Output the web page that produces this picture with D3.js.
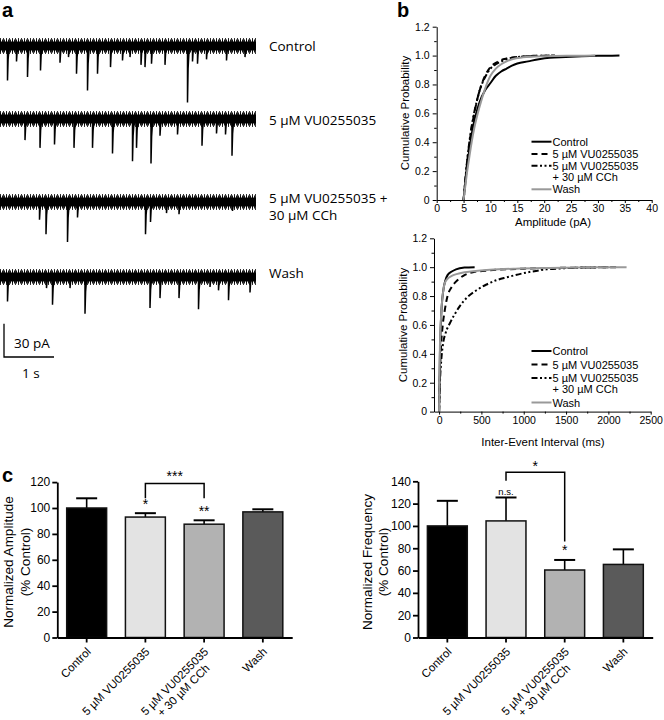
<!DOCTYPE html>
<html><head><meta charset="utf-8">
<script src="https://cdn.jsdelivr.net/npm/d3@7"></script>
<style>body{margin:0;background:#fff}svg{display:block}text{font-family:"Liberation Sans",Arial,sans-serif}</style>
</head><body><svg id="c" width="664" height="720"></svg>
<script>
// ---------- DATA ----------
// Panel a: event times (s) and amplitudes (pA) for each trace
const traceNames = ["Control", "5 µM VU0255035", "5 µM VU0255035 +|30 µM CCh", "Wash"];
const evControlT = [0.15,0.33,0.55,0.81,1.2,1.37,1.53,1.75,1.95,2.21,2.45,2.6,2.82,2.9,3.03,3.3,3.75,3.85,3.95,4.13,4.53,4.9];
const evControlA = [31,14,28,22,15,10,25,40,25,19,13,10,17,19,16,17,51,14,16,12,13,10];
const evVUT = [0.5,0.8,1.09,1.48,1.85,2.25,2.65,2.73,3.02,3.2,3.55,4.04,4.33,4.51,4.64];
const evVUA = [19,26,23,26,26,31,38,26,40,15,14,24,13,14,33];
const evCChT = [0.79,0.92,1.35,1.55,2.91,3.01,3.33,3.58,4.65];
const evCChA = [16,29,36,14,29,18,10,11,8];
const evWashT = [0.15,0.93,1.05,1.4,1.7,3.0,3.2,3.58,3.97,4.2,4.37,4.57,5.0];
const evWashA = [22,10,25,10,33,28,19,19,29,9,12,21,14];

// Panel b: cumulative distributions
const seriesNames = ["Control", "5 µM VU0255035", "5 µM VU0255035|+ 30 µM CCh", "Wash"];
const ampX_Control = [5,5.3,5.6,6,6.5,7,7.5,8,9,10,11,12,13,14,15,17,19,21,24,27,30,34];
const ampP_Control = [0,0.11,0.22,0.33,0.45,0.55,0.62,0.68,0.76,0.81,0.86,0.89,0.91,0.93,0.945,0.96,0.975,0.985,0.99,0.995,0.998,1.0];
const ampX_VU = [5,5.3,5.6,6,6.5,7,7.5,8,9,10,11,12,13,15,18,22];
const ampP_VU = [0,0.12,0.24,0.37,0.5,0.6,0.69,0.76,0.86,0.92,0.95,0.97,0.98,0.99,0.998,1.0];
const ampX_CCh = [5,5.3,5.6,6,6.5,7,7.5,8,9,10,11,12,13,15,18,21];
const ampP_CCh = [0,0.13,0.25,0.38,0.51,0.61,0.69,0.76,0.85,0.91,0.94,0.96,0.975,0.99,0.997,1.0];
const ampX_Wash = [5,5.3,5.6,6,6.5,7,7.5,8,9,10,11,12,13,14,16,20,25,29.5];
const ampP_Wash = [0,0.09,0.18,0.28,0.4,0.5,0.58,0.65,0.77,0.86,0.91,0.94,0.96,0.975,0.988,0.996,0.999,1.0];

const ieiX_Control = [0,5,10,20,30,50,75,100,150,200,300,420];
const ieiP_Control = [0,0.2,0.4,0.6,0.72,0.84,0.91,0.945,0.97,0.985,0.997,1.0];
const ieiX_VU = [0,10,20,40,67,100,146,200,300,400,600,1000,1500,2100];
const ieiP_VU = [0,0.25,0.42,0.58,0.7,0.8,0.86,0.9,0.945,0.965,0.978,0.99,0.996,1.0];
const ieiX_CCh = [0,10,25,47,80,126,180,245,330,442,560,678,800,993,1100,1270,1500,1750,2000];
const ieiP_CCh = [0,0.2,0.35,0.47,0.55,0.61,0.67,0.73,0.79,0.84,0.88,0.91,0.93,0.958,0.97,0.985,0.993,0.998,1.0];
const ieiX_Wash = [0,5,10,20,35,50,67,100,150,205,300,400,600,900,1300,1800,2215];
const ieiP_Wash = [0,0.25,0.45,0.62,0.76,0.84,0.89,0.92,0.94,0.952,0.965,0.972,0.982,0.99,0.995,0.999,1.0];

// Panel c: bars
const barCats = ["Control", "5 µM VU0255035", "5 µM VU0255035|+ 30 µM CCh", "Wash"];
const ampMean = [100, 93, 87.5, 97];
const ampErr = [7.5, 3, 3, 2];
const freqMean = [100, 104.5, 60.5, 65.5];
const freqErr = [22.5, 21, 9, 13.5];
const ampTicks = [0,20,40,60,80,100,120];
const freqTicks = [0,20,40,60,80,100,120,140];

// ---------- STYLE ----------
const barColors = ["#000000", "#e3e3e3", "#b2b2b2", "#5a5a5a"];
const lineStyles = [
  {color:"#000", dash:null},
  {color:"#000", dash:"6,4"},
  {color:"#000", dash:"6,2.5,2,2.5,2,2.5"},
  {color:"#999", dash:null}
];
const svg = d3.select("#c");
const humanist = '"Open Sans", "Noto Sans", sans-serif';

// Panel letters
[["a",2,17],["b",397,17],["c",2,482]].forEach(([t,x,y]) =>
  svg.append("text").attr("x",x).attr("y",y).attr("font-size",20).attr("font-weight","bold").text(t));

// ---------- PANEL A ----------
const traceBase = [46, 119, 202, 277];
const evT = [evControlT, evVUT, evCChT, evWashT];
const evA = [evControlA, evVUA, evCChA, evWashA];
const tx = d3.scaleLinear().domain([0, 5.12]).range([0, 256]);
const pxPerPA = 33.3/30;
traceNames.forEach((nm, i) => {
  const g = svg.append("g");
  const ty = d3.scaleLinear().domain([0, 60]).range([traceBase[i], traceBase[i] + 60*pxPerPA]);
  const band = (w, dash, op) => g.append("line").attr("x1", tx(0)).attr("x2", tx(5.12)).attr("y1", ty(0)).attr("y2", ty(0))
    .attr("stroke", "#000").attr("stroke-width", w).attr("stroke-dasharray", dash).attr("stroke-opacity", op);
  band(16, "1,2", 0.8);
  band(13, "1,1", 0.9);
  band(9, null, 1);
  evT[i].forEach((t, k) => {
    const a = evA[i][k];
    g.append("path")
      .attr("d", `M${tx(t)},${ty(0)}L${tx(t)},${ty(a)}L${tx(t+0.012)},${ty(a*0.4)}L${tx(t+0.035)},${ty(0)}`)
      .attr("fill", "none").attr("stroke", "#000").attr("stroke-width", 1.5);
  });
  const lines = nm.split("|");
  const baseY = [50.7, 125, 202.7, 278.3][i];
  lines.forEach((l, j) => svg.append("text").attr("x", 269).attr("y", baseY + j*17.3)
    .attr("font-size", 13.5).style("font-family", humanist).text(l));
});
// scale bar
const sbx = d3.scaleLinear().domain([0, 1]).range([4, 54]);
const sby = d3.scaleLinear().domain([0, 30]).range([357, 323.7]);
svg.append("path").attr("d", `M${sbx(0)},${sby(30)}V${sby(0)}H${sbx(1)}`).attr("fill","none").attr("stroke","#000").attr("stroke-width",1.3);
svg.append("text").attr("x", 14).attr("y", 348).attr("font-size", 13.5).style("font-family", humanist).text("30 pA");
svg.append("text").attr("x", 22).attr("y", 378).attr("font-size", 13.5).style("font-family", humanist).text("1 s");

// ---------- PANEL B ----------
function cdfPanel(opts) {
  const g = svg.append("g");
  const x = d3.scaleLinear().domain(opts.xDomain).range(opts.xRange);
  const y = d3.scaleLinear().domain([0, 1.2]).range(opts.yRange);
  const yAx = d3.axisLeft(y).tickValues(d3.range(0, 1.21, 0.2)).tickSize(4).tickSizeOuter(0)
    .tickFormat(d => d === 0 ? "0" : d3.format(".1f")(d)).tickPadding(3);
  g.append("g").attr("transform", `translate(${opts.xRange[0]},0)`).call(yAx);
  g.append("g").attr("transform", `translate(${opts.xRange[0]},0)`)
    .call(d3.axisLeft(y).tickValues(d3.range(0.1, 1.2, 0.2)).tickSize(2.5).tickFormat("")).select(".domain").remove();
  const xAx = d3.axisBottom(x).tickValues(opts.xTicks).tickSize(3).tickSizeOuter(0).tickPadding(2).tickFormat(d3.format("d"));
  g.append("g").attr("transform", `translate(0,${opts.yRange[0]})`).call(xAx);
  g.append("g").attr("transform", `translate(0,${opts.yRange[0]})`)
    .call(d3.axisBottom(x).tickValues(opts.xMinor).tickSize(2).tickFormat("")).select(".domain").remove();
  g.selectAll(".tick text").attr("font-size", 10.5).attr("font-family", '"Liberation Sans",Arial,sans-serif').attr("fill", "#000");
  g.selectAll(".domain, .tick line").attr("stroke", "#000").attr("stroke-width", 1);
  opts.series.forEach((s, i) => {
    const pts = s.x.map((v, k) => [v, s.p[k]]);
    g.append("path").datum(pts)
      .attr("d", d3.line().x(d => x(d[0])).y(d => y(d[1])).curve(d3.curveMonotoneX))
      .attr("fill", "none").attr("stroke", lineStyles[i].color).attr("stroke-width", 2)
      .attr("stroke-dasharray", lineStyles[i].dash);
  });
  g.append("text").attr("x", opts.xTitle[0]).attr("y", opts.xTitle[1]).attr("text-anchor", "middle")
    .attr("font-size", 11.5).text(opts.xLabel);
  g.append("text").attr("transform", `translate(${opts.yTitle[0]},${opts.yTitle[1]}) rotate(-90)`)
    .attr("text-anchor", "middle").attr("font-size", 11.5).text("Cumulative Probability");
  const ly = opts.legendY;
  seriesNames.forEach((nm, i) => {
    const yy = ly[i];
    g.append("line").attr("x1", 531.5).attr("x2", 551.5).attr("y1", yy).attr("y2", yy)
      .attr("stroke", lineStyles[i].color).attr("stroke-width", 2).attr("stroke-dasharray", lineStyles[i].dash);
    nm.split("|").forEach((l, j) => g.append("text").attr("x", 552.5).attr("y", yy + 4 + j*11.3)
      .attr("font-size", 11).text(l));
  });
}
cdfPanel({
  xDomain: [0, 40], xRange: [436.7, 651.7], yRange: [200, 26.7],
  xTicks: d3.range(0, 41, 5), xMinor: d3.range(2.5, 40, 5),
  series: [{x:ampX_Control,p:ampP_Control},{x:ampX_VU,p:ampP_VU},{x:ampX_CCh,p:ampP_CCh},{x:ampX_Wash,p:ampP_Wash}],
  xLabel: "Amplitude (pA)", xTitle: [553, 226], yTitle: [409, 113],
  legendY: [141.7, 153.9, 165.7, 189.3]
});
cdfPanel({
  xDomain: [-60, 2500], xRange: [434, 650.7], yRange: [411.6, 238.3],
  xTicks: d3.range(0, 2501, 500), xMinor: d3.range(250, 2500, 500),
  series: [{x:ieiX_Control,p:ieiP_Control},{x:ieiX_VU,p:ieiP_VU},{x:ieiX_CCh,p:ieiP_CCh},{x:ieiX_Wash,p:ieiP_Wash}],
  xLabel: "Inter-Event Interval (ms)", xTitle: [543, 446], yTitle: [407, 325],
  legendY: [351, 364.5, 378, 402.5]
});

// ---------- PANEL C ----------
function barPanel(opts) {
  const g = svg.append("g");
  const x = d3.scaleBand().domain(barCats).range(opts.xRange).paddingInner(0.32).paddingOuter(0.16);
  const y = d3.scaleLinear().domain([0, opts.yMax]).range([637.5, opts.yTop]);
  const data = barCats.map((c, i) => ({c, m: opts.mean[i], e: opts.err[i], col: barColors[i]}));
  data.forEach(d => {
    const cx = x(d.c) + x.bandwidth()/2;
    g.append("line").attr("x1", cx).attr("x2", cx).attr("y1", y(d.m)).attr("y2", y(d.m + d.e)).attr("stroke", "#000").attr("stroke-width", 1.6);
    g.append("line").attr("x1", cx - 10.5).attr("x2", cx + 10.5).attr("y1", y(d.m + d.e)).attr("y2", y(d.m + d.e)).attr("stroke", "#000").attr("stroke-width", 2);
  });
  g.selectAll("rect.bar").data(data).join("rect")
    .attr("x", d => x(d.c)).attr("width", x.bandwidth())
    .attr("y", d => y(d.m)).attr("height", d => y(0) - y(d.m))
    .attr("fill", d => d.col).attr("stroke", "#111").attr("stroke-width", 1.5);
  const gy = g.append("g").attr("transform", `translate(${opts.xRange[0]},0)`)
    .call(d3.axisLeft(y).tickValues(opts.ticks).tickSize(5).tickSizeOuter(0).tickPadding(2));
  g.append("g").attr("transform", `translate(0,${y(0)})`)
    .call(d3.axisBottom(x).tickSize(5).tickSizeOuter(0).tickFormat(""));
  g.selectAll(".domain, .tick line").attr("stroke", "#000").attr("stroke-width", 1.8);
  gy.selectAll(".tick text").attr("font-size", 12).attr("font-family", '"Liberation Sans",Arial,sans-serif').attr("fill", "#000");
  barCats.forEach(c => {
    const cx = x(c) + x.bandwidth()/2;
    const lg = g.append("g").attr("transform", `translate(${cx + 5},${y(0) + 15}) rotate(-45)`);
    const parts = c.split("|");
    const t1 = lg.append("text").attr("text-anchor", "end").attr("font-size", 11.5).text(parts[0]);
    if (parts[1]) {
      const w = t1.node().getComputedTextLength();
      lg.append("text").attr("x", -w/2).attr("y", 12.5).attr("text-anchor", "middle").attr("font-size", 11.5).text(parts[1]);
    }
  });
  opts.yTitleLines.forEach((l, j) =>
    g.append("text").attr("transform", `translate(${opts.yTitleX[j]},${opts.yTitleY}) rotate(-90)`)
      .attr("text-anchor", "middle").attr("font-size", 13.5).text(l));
  const cxOf = i => x(barCats[i]) + x.bandwidth()/2;
  opts.stars.forEach(s => g.append("text").attr("x", cxOf(s.i)).attr("y", y(s.v)).attr("text-anchor", "middle")
    .attr("font-size", s.size || 14).text(s.t));
  const b = opts.bracket;
  g.append("path").attr("d", `M${cxOf(b.i1)},${y(b.v1)}V${y(b.top)}H${cxOf(b.i2)}V${y(b.v2)}`)
    .attr("fill", "none").attr("stroke", "#000").attr("stroke-width", 1.5);
  g.append("text").attr("x", (cxOf(b.i1)+cxOf(b.i2))/2).attr("y", y(b.top) - b.labelOff).attr("text-anchor", "middle")
    .attr("font-size", 14).text(b.label);
}
barPanel({
  xRange: [57.3, 292.2], yMax: 120, yTop: 482.1, mean: ampMean, err: ampErr, ticks: ampTicks,
  yTitleLines: ["Normalized Amplitude", "(% Control)"], yTitleX: [13, 30], yTitleY: 562,
  stars: [{i:1, v:99, t:"*"}, {i:2, v:93.5, t:"**"}],
  bracket: {i1:1, i2:2, v1:107.5, v2:107.5, top:119, label:"***", labelOff:2}
});
barPanel({
  xRange: [418, 652.7], yMax: 140, yTop: 481.3, mean: freqMean, err: freqErr, ticks: freqTicks,
  yTitleLines: ["Normalized Frequency", "(% Control)"], yTitleX: [372, 388], yTitleY: 562,
  stars: [{i:1, v:128, t:"n.s.", size:9.5}, {i:2, v:73.5, t:"*"}],
  bracket: {i1:1, i2:2, v1:140.5, v2:86, top:148, label:"*", labelOff:1}
});
</script></body></html>
